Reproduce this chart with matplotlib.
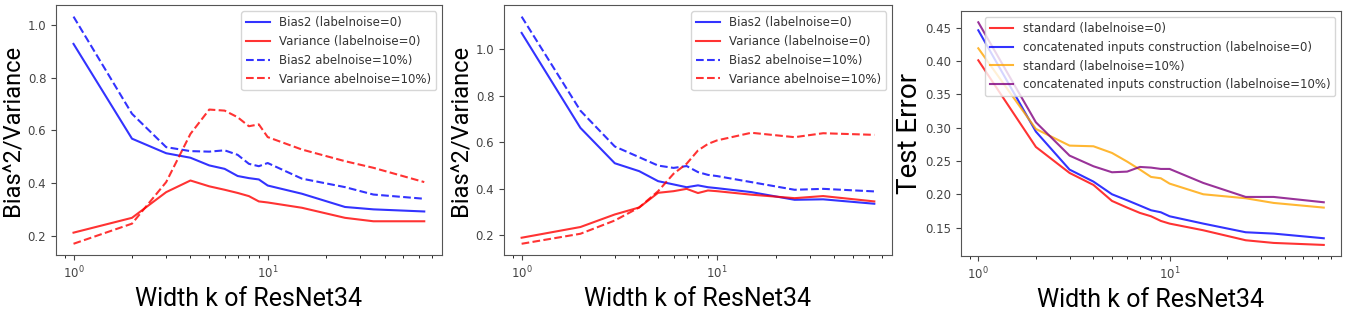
import matplotlib
matplotlib.use("Agg")
import matplotlib.pyplot as plt

# widths k of ResNet34
widths = [1, 2, 3, 4, 5, 6, 7, 8, 9, 10, 15, 25, 35, 64]

# panel 1
bias_a = [0.927, 0.569, 0.514, 0.497, 0.468, 0.455, 0.428, 0.420, 0.415, 0.392, 0.361, 0.311, 0.302, 0.294]
var_a = [0.214, 0.270, 0.367, 0.411, 0.389, 0.376, 0.364, 0.352, 0.332, 0.328, 0.308, 0.270, 0.257, 0.257]
bias_a_n = [1.030, 0.663, 0.537, 0.522, 0.520, 0.525, 0.508, 0.474, 0.465, 0.477, 0.418, 0.386, 0.358, 0.342]
var_a_n = [0.172, 0.248, 0.405, 0.587, 0.679, 0.675, 0.650, 0.616, 0.623, 0.575, 0.528, 0.484, 0.459, 0.405]

# panel 2
bias_b = [1.070, 0.662, 0.510, 0.476, 0.433, 0.419, 0.407, 0.415, 0.407, 0.403, 0.386, 0.353, 0.355, 0.336]
var_b = [0.190, 0.236, 0.290, 0.320, 0.383, 0.390, 0.400, 0.382, 0.393, 0.390, 0.375, 0.360, 0.369, 0.346]
bias_b_n = [1.140, 0.736, 0.582, 0.536, 0.500, 0.490, 0.498, 0.472, 0.460, 0.455, 0.429, 0.396, 0.400, 0.389]
var_b_n = [0.164, 0.207, 0.264, 0.320, 0.390, 0.465, 0.508, 0.565, 0.593, 0.608, 0.641, 0.622, 0.639, 0.632]

# panel 3 test error
std_0 = [0.401, 0.271, 0.232, 0.214, 0.190, 0.180, 0.172, 0.167, 0.160, 0.156, 0.146, 0.131, 0.127, 0.124]
cat_0 = [0.446, 0.294, 0.237, 0.219, 0.200, 0.191, 0.183, 0.176, 0.173, 0.167, 0.156, 0.143, 0.141, 0.134]
std_10 = [0.419, 0.298, 0.273, 0.272, 0.262, 0.249, 0.237, 0.226, 0.224, 0.216, 0.200, 0.194, 0.187, 0.180]
cat_10 = [0.458, 0.308, 0.258, 0.242, 0.233, 0.234, 0.241, 0.240, 0.238, 0.238, 0.217, 0.196, 0.196, 0.188]

bv_labels = ["Bias2 (labelnoise=0)", "Variance (labelnoise=0)",
             "Bias2 abelnoise=10%)", "Variance abelnoise=10%)"]
err_labels = ["standard (labelnoise=0)", "concatenated inputs construction (labelnoise=0)",
              "standard (labelnoise=10%)", "concatenated inputs construction (labelnoise=10%)"]

fig = plt.figure(figsize=(13.49, 3.10), dpi=100)
ax1 = fig.add_axes([0.0415, 0.177, 0.286, 0.806])
ax2 = fig.add_axes([0.3736, 0.177, 0.2876, 0.806])
ax3 = fig.add_axes([0.7124, 0.174, 0.2817, 0.790])


def style(ax, ylabel, ysize):
    ax.set_xscale("log")
    ax.set_xlabel("Width k of ResNet34", family="Roboto", size=18)
    ax.set_ylabel(ylabel, family="Roboto", size=ysize, labelpad=2)
    ax.tick_params(labelsize=8.5, labelcolor="#444444", colors="#444444")
    for s in ax.spines.values():
        s.set_color("#555555")


for ax, b, v, bn, vn in [(ax1, bias_a, var_a, bias_a_n, var_a_n),
                         (ax2, bias_b, var_b, bias_b_n, var_b_n)]:
    ax.plot(widths, b, color="blue", lw=1.5, alpha=0.8, label=bv_labels[0])
    ax.plot(widths, v, color="red", lw=1.5, alpha=0.8, label=bv_labels[1])
    ax.plot(widths, bn, color="blue", lw=1.5, alpha=0.8, ls="--", label=bv_labels[2])
    ax.plot(widths, vn, color="red", lw=1.5, alpha=0.8, ls="--", label=bv_labels[3])
    style(ax, "Bias^2/Variance", 17)
    ax.legend(loc="upper right", fontsize=8.5, labelcolor="#333333")

ax3.plot(widths, std_0, color="red", lw=1.5, alpha=0.8, label=err_labels[0])
ax3.plot(widths, cat_0, color="blue", lw=1.5, alpha=0.8, label=err_labels[1])
ax3.plot(widths, std_10, color="orange", lw=1.5, alpha=0.8, label=err_labels[2])
ax3.plot(widths, cat_10, color="purple", lw=1.5, alpha=0.8, label=err_labels[3])
style(ax3, "Test Error", 20)
ax3.legend(loc="upper right", fontsize=8.5, labelcolor="#333333")

fig.savefig("out.png", dpi=100)
